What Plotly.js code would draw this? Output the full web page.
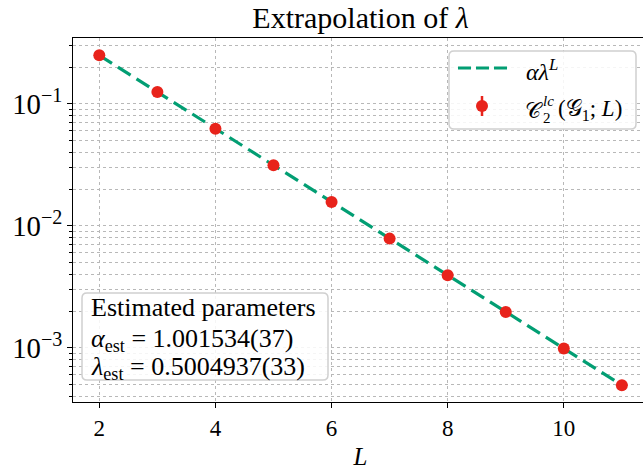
<!DOCTYPE html>
<html>
<head>
<meta charset="utf-8">
<script src="https://cdn.plot.ly/plotly-3.0.1.min.js"></script>
<style>
html,body{margin:0;padding:0;overflow:hidden;background:#fff;}
#plot{width:660px;height:476px;}
</style>
</head>
<body>
<div id="plot"></div>
<script>
// ---- data ----
var L_values = [2, 3, 4, 5, 6, 7, 8, 9, 10, 11];
var C_values = [0.2504, 0.1253, 0.0627, 0.03137, 0.01570, 0.007857, 0.003932, 0.001968, 0.000985, 0.000493];
var fit_values = [0.2506, 0.1254, 0.06276, 0.03141, 0.01572, 0.007869, 0.003938, 0.001971, 0.000986, 0.000494];
var xTicks = [2, 4, 6, 8, 10];
var titleText = 'Extrapolation of <i>λ</i>';
var boxLines = ['Estimated parameters', '<i>α</i><sub>est</sub> = 1.001534(37)', '<i>λ</i><sub>est</sub> = 0.5004937(33)'];

// ---- geometry helpers (plot area in px) ----
var W = 660, H = 476;
var PL = 73, PR = 648, PT = 38, PB = 402;
function px(x){ return (x - PL) / (PR - PL); }
function py(y){ return (PB - y) / (PB - PT); }
function roundRect(x0, y0, x1, y1, r){
  var a = px(x0), b = px(x1), c = py(y0), d = py(y1);
  var rx = r / (PR - PL), ry = r / (PB - PT);
  return 'M' + (a + rx) + ',' + c + ' L' + (b - rx) + ',' + c +
    ' Q' + b + ',' + c + ' ' + b + ',' + (c - ry) +
    ' L' + b + ',' + (d + ry) + ' Q' + b + ',' + d + ' ' + (b - rx) + ',' + d +
    ' L' + (a + rx) + ',' + d + ' Q' + a + ',' + d + ' ' + a + ',' + (d + ry) +
    ' L' + a + ',' + (c - ry) + ' Q' + a + ',' + c + ' ' + (a + rx) + ',' + c + ' Z';
}

var FONT = 'Liberation Serif, DejaVu Serif, serif';
var GREEN = '#029e73';
var RED = '#e8231b';
var GRID = '#b8b8b8';

var traces = [
  {
    x: L_values, y: fit_values, mode: 'lines', type: 'scatter',
    line: {color: GREEN, width: 3.2, dash: '15px,7px'},
    showlegend: false, hoverinfo: 'skip'
  },
  {
    x: L_values, y: C_values, mode: 'markers', type: 'scatter',
    marker: {color: RED, size: 12},
    showlegend: false
  }
];

function ann(x, y, text, size, xanchor, yanchor, extra){
  var a = {xref: 'paper', yref: 'paper', x: px(x), y: py(y), text: text, showarrow: false,
    xanchor: xanchor || 'left', yanchor: yanchor || 'middle',
    font: {family: FONT, size: size, color: '#000'}};
  if (extra) for (var k in extra) a[k] = extra[k];
  return a;
}

var annotations = [
  ann(89, 307, boxLines[0], 26),
  ann(89, 340, boxLines[1], 26),
  ann(89, 368, boxLines[2], 26),
  // legend labels
  ann(524, 70, '<i>αλ</i><sup><i>L</i></sup>', 24),
  ann(523, 111, '𝒞', 22),
  ann(541, 101, '<i>lc</i>', 15),
  ann(541, 118, '2', 15),
  ann(556, 110, '(𝒢<sub>1</sub>; <i>L</i>)', 23)
];

var shapes = [
  {type: 'path', xref: 'paper', yref: 'paper', path: roundRect(449, 51, 636, 129, 5),
   fillcolor: 'rgba(255,255,255,0.85)', line: {color: '#d0d0d0', width: 1.5}, layer: 'above'},
  {type: 'path', xref: 'paper', yref: 'paper', path: roundRect(82, 293, 328, 380, 5),
   fillcolor: 'rgba(255,255,255,0.85)', line: {color: '#d0d0d0', width: 1.5}, layer: 'above'},
  // legend glyphs
  {type: 'line', xref: 'paper', yref: 'paper', x0: px(458), x1: px(507), y0: py(68), y1: py(68),
   line: {color: GREEN, width: 3.2, dash: '13px,5px'}},
  {type: 'line', xref: 'paper', yref: 'paper', x0: px(482), x1: px(482), y0: py(96), y1: py(116),
   line: {color: RED, width: 2.5}},
  {type: 'circle', xref: 'paper', yref: 'paper', x0: px(476), x1: px(488), y0: py(100), y1: py(112),
   fillcolor: RED, line: {color: RED, width: 0}}
];

var layout = {
  width: W, height: H,
  margin: {l: PL, r: W - PR, t: PT, b: H - PB, pad: 0},
  paper_bgcolor: '#fff', plot_bgcolor: '#fff',
  font: {family: FONT, size: 23, color: '#000'},
  title: {text: titleText, font: {family: FONT, size: 30, color: '#000'},
    x: 0.5, xref: 'paper', xanchor: 'center', y: 1 - 17 / H, yref: 'container', yanchor: 'middle'},
  xaxis: {
    range: [1.547, 11.45], tickvals: xTicks, ticktext: xTicks.map(String),
    ticks: 'outside', ticklen: 5, tickwidth: 1, tickcolor: '#000',
    showline: true, linecolor: '#000', linewidth: 1, mirror: true,
    showgrid: true, gridcolor: GRID, griddash: 'dot', gridwidth: 1, zeroline: false,
    tickfont: {family: FONT, size: 23, color: '#000'},
    title: {text: '<i>L</i>', font: {family: FONT, size: 25, color: '#000'}, standoff: 7}
  },
  yaxis: {
    type: 'log', range: [-3.445, -0.459], dtick: 1, exponentformat: 'power',
    ticks: 'outside', ticklen: 5, tickwidth: 1, tickcolor: '#000',
    showline: true, linecolor: '#000', linewidth: 1, mirror: true,
    showgrid: true, gridcolor: GRID, griddash: 'dot', gridwidth: 1, zeroline: false,
    tickfont: {family: FONT, size: 23, color: '#000'},
    minor: {dtick: 'D1', ticks: 'outside', ticklen: 3, tickwidth: 1, tickcolor: '#000',
      showgrid: true, gridcolor: GRID, griddash: 'dot', gridwidth: 1}
  },
  annotations: annotations,
  shapes: shapes,
  showlegend: false
};

Plotly.newPlot('plot', traces, layout, {displayModeBar: false, staticPlot: true});
</script>
</body>
</html>
